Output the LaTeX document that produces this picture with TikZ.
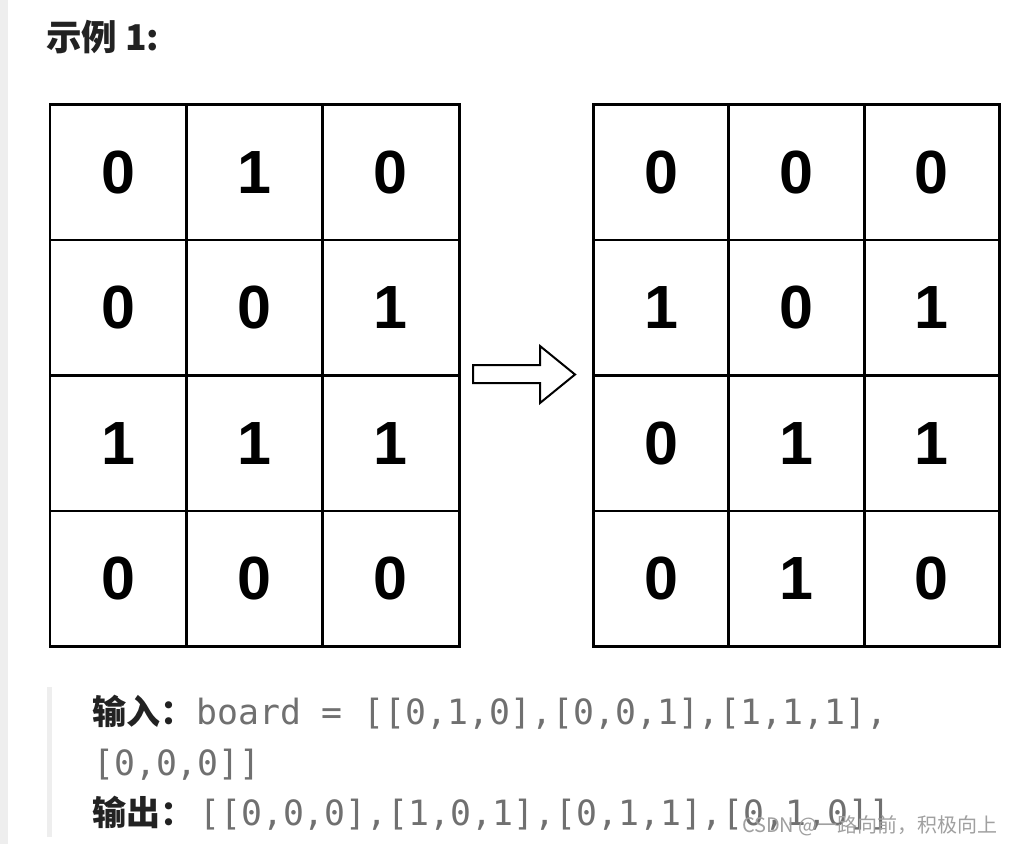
\documentclass[tikz,border=0pt]{standalone}
\usepackage{fontspec}
\setmainfont{Liberation Sans}
\newfontfamily\cjk{Noto Sans CJK SC}
\newfontfamily\monof{DejaVu Sans Mono}
\newfontfamily\digitf{Liberation Sans}
\definecolor{barbg}{HTML}{EEEEEE}
\definecolor{textdark}{HTML}{222222}
\definecolor{monogray}{HTML}{707070}
\definecolor{wmgray}{HTML}{A0A0A0}
\begin{document}
\begin{tikzpicture}[x=1pt,y=-1pt,
  cell/.style={draw=black,line width=2.8pt,minimum width=136.4pt,minimum height=135.5pt,
    inner sep=0pt,anchor=north west,font=\digitf\bfseries\fontsize{61}{61}\selectfont},
  cellR/.style={cell,minimum width=135.4pt},
  cjklabel/.style={anchor=base west,inner sep=0pt,text=textdark,font=\cjk\bfseries\fontsize{34}{34}\selectfont},
  monotext/.style={anchor=base west,inner sep=0pt,text=monogray,font=\monof\fontsize{34.8}{34.8}\selectfont},
  blockarrow/.style={draw=black,fill=white,line width=2pt,line join=miter}
]
\useasboundingbox (0,0) rectangle (1014,844);
\fill[white] (0,0) rectangle (1014,844);
% left page bar
\fill[barbg] (0,0) rectangle (8,844);
% title
\node[cjklabel,font=\cjk\bfseries\fontsize{35.5}{35.5}\selectfont] (title) at (46,50) {示例 1:};
% left grid
\foreach \r/\a/\b/\c [count=\i from 0] in {1/0/1/0,2/0/0/1,3/1/1/1,4/0/0/0}{
  \node[cell] (L\r1) at (48.5,103+\i*135.5) {\a};
  \node[cell] (L\r2) at (184.9,103+\i*135.5) {\b};
  \node[cell] (L\r3) at (321.3,103+\i*135.5) {\c};
}
% right grid
\foreach \r/\a/\b/\c [count=\i from 0] in {1/0/0/0,2/1/0/1,3/0/1/1,4/0/1/0}{
  \node[cellR] (R\r1) at (592,103+\i*135.5) {\a};
  \node[cellR] (R\r2) at (727.4,103+\i*135.5) {\b};
  \node[cellR] (R\r3) at (862.8,103+\i*135.5) {\c};
}
% block arrow
\draw[blockarrow] (473,365) -- (540,365) -- (540,346) -- (575,374.5) -- (540,403) -- (540,383) -- (473,383) -- cycle;
% blockquote bar
\fill[barbg] (47,687) rectangle (52,837);
% input / output text
\node[cjklabel] (inlab) at (92,724) {输入：};
\node[monotext] (intext) at (196,724) {board = [[0,1,0],[0,0,1],[1,1,1],};
\node[monotext] (intext2) at (93,775) {[0,0,0]]};
\node[cjklabel] (outlab) at (92,825) {输出：};
\node[monotext] (outtext) at (199,825) {[[0,0,0],[1,0,1],[0,1,1],[0,1,0]]};
% watermark
\node[anchor=base east,inner sep=0pt,text=wmgray,font=\cjk\fontsize{20}{20}\selectfont] (wm) at (998,832) {CSDN @一路向前，积极向上};
\end{tikzpicture}
\end{document}
